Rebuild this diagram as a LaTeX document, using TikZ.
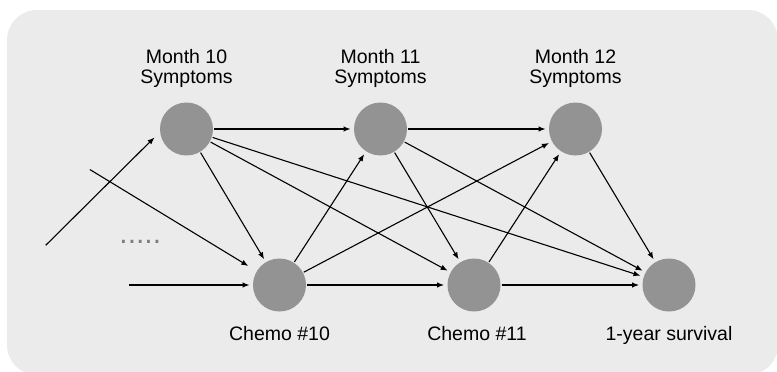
\documentclass[tikz,border=0pt]{standalone}
\usepackage{fontspec}
\setmainfont{Liberation Sans}
\usetikzlibrary{arrows.meta,positioning}
\definecolor{panelgray}{HTML}{EBEBEB}
\definecolor{nodegray}{HTML}{939393}
\definecolor{dotgray}{HTML}{7F7F7F}

\begin{document}
\begin{tikzpicture}[x = 1pt, y = -1pt,
		var/.style = {circle, fill = nodegray, minimum size = 53pt, inner sep = 0pt, outer sep = 0pt},
		lab/.style = {font = \fontsize{19.5}{19.5}\selectfont, align = center, inner sep = 0pt},
		arr/.style = {-{Latex[length = 7pt, width = 5.5pt]}, line width = 1.1pt, shorten > = 3.5pt, shorten < = 1pt},
		node distance = 15pt]
					\useasboundingbox (0, 0) rectangle (777, 372);
					\fill [panelgray, rounded corners = 30pt] (7, 10) rectangle (778, 375);

					\coordinate (in1) at (45, 246);
					\coordinate (in2) at (89, 169);
					\coordinate (in3) at (128, 285);

					\node [var] (s10) at (186.5, 129) {};
					\node [var] (s11) at (380.5, 129) {};
					\node [var] (s12) at (575.5, 129) {};
					\node [var] (c10) at (279.5, 285) {};
					\node [var] (c11) at (474, 285) {};
					\node [var] (surv) at (669, 285) {};

					\node [lab, above = of s10] (s10lab) {Month 10\\Symptoms};
					\node [lab, above = of s11] (s11lab) {Month 11\\Symptoms};
					\node [lab, above = of s12] (s12lab) {Month 12\\Symptoms};
					\node [lab, below = of c10] (c10lab) {Chemo \#10};
					\node [lab, below = of c11, xshift = 3pt] (c11lab) {Chemo \#11};
					\node [lab, below = of surv] (survlab) {1-year survival};

					\node [font = \fontsize{30}{30}\selectfont, text = dotgray, anchor = base, inner sep = 0pt] (dots) at (140.3, 243.7) {.....};

					\draw [arr, shorten > = 8pt] (in1) -- (s10.186);
					\draw [arr, shorten > = 10pt] (in2) -- (c10);
					\draw [arr] (in3) -- (c10);

					\draw [arr] (s10) -- (s11);
					\draw [arr] (s10) -- (c10);
					\draw [arr] (s10) -- (c11);
					\draw [arr] (s10) -- (surv);

					\draw [arr] (s11) -- (s12);
					\draw [arr] (s11) -- (c11);
					\draw [arr] (s11) -- (surv);

					\draw [arr] (s12) -- (surv);

					\draw [arr] (c10) -- (s11);
					\draw [arr] (c10) -- (s12);
					\draw [arr] (c10) -- (c11);

					\draw [arr] (c11) -- (s12);
					\draw [arr] (c11) -- (surv);
				\end{tikzpicture}
\end{document}
